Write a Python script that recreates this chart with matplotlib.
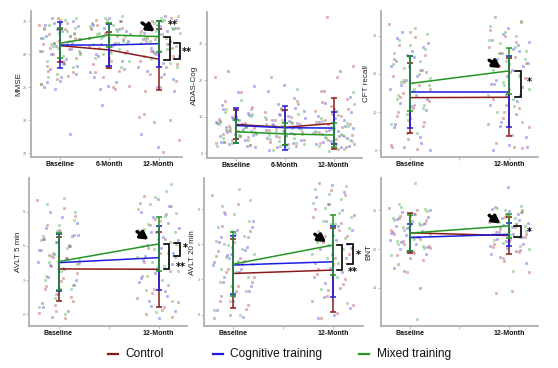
import numpy as np
import matplotlib
matplotlib.use("Agg")
import matplotlib.pyplot as plt
import matplotlib.font_manager as fm

_names = {f.name for f in fm.fontManager.ttflist}
NARROW = 'Liberation Sans Narrow' if 'Liberation Sans Narrow' in _names else 'Liberation Sans'
plt.rcParams['font.family'] = [NARROW, 'DejaVu Sans']

# ---------------- data ----------------
GROUPS = ["Control", "Cognitive training", "Mixed training"]
TIME3 = ["Baseline", "6-Month", "12-Month"]
TIME2 = ["Baseline", "", "12-Month"]

# MMSE
mmse_mean_ctrl = [28.52, 28.26, 27.70]; mmse_sd_ctrl = [1.0, 1.1, 1.85]
mmse_mean_cog = [28.56, 28.56, 28.64];  mmse_sd_cog = [1.4, 1.25, 1.4]
mmse_mean_mix = [28.67, 29.17, 29.07];  mmse_sd_mix = [0.9, 0.75, 0.95]
mmse_pts_ctrl = [[29.8, 29.5, 29.2, 29.0, 28.8, 28.6, 28.3, 28.0, 28.9, 27.6, 27.3, 26.9, 26.5, 26.2, 29.9, 28.4, 27.8, 30.1,
                  29.6, 29.1, 28.7, 28.1, 27.5, 27.0, 29.3, 30.2, 28.2, 26.7],
                 [30.1, 29.6, 29.3, 29.0, 28.7, 28.4, 28.1, 27.8, 27.4, 27.0, 26.6, 26.1, 26.0, 29.8, 28.9, 27.2,
                  29.5, 29.1, 28.6, 28.2, 27.6, 26.9, 30.0, 29.3, 28.5, 25.9],
                 [30.0, 29.6, 29.2, 28.8, 28.4, 28.0, 27.6, 27.2, 26.8, 26.4, 26.0, 24.4, 24.0, 23.9, 22.8, 22.1, 29.0, 27.9,
                  29.8, 29.4, 28.6, 28.2, 27.4, 26.6, 25.8, 30.2, 28.9, 24.2]]
mmse_pts_cog = [[30.2, 29.7, 29.4, 29.1, 28.7, 28.5, 28.2, 27.7, 27.1, 26.8, 26.4, 26.0, 23.2, 29.9, 28.9, 27.5, 26.3,
                 30.0, 29.5, 29.0, 28.6, 28.0, 27.3, 26.6, 29.8, 28.3, 25.9],
                [30.2, 29.8, 29.5, 29.1, 28.8, 28.5, 28.0, 27.6, 27.3, 26.9, 26.3, 25.9, 29.4, 28.2, 26.6,
                 30.0, 29.6, 29.2, 28.6, 27.9, 27.1, 26.1, 29.9, 28.7, 24.9],
                [30.3, 29.9, 29.6, 29.2, 28.9, 28.6, 28.2, 27.9, 27.5, 27.0, 26.5, 26.0, 23.2, 29.4, 28.4,
                 30.1, 29.7, 29.3, 28.8, 28.1, 27.2, 26.8, 29.5, 25.8, 22.4]]
mmse_pts_mix = [[30.1, 29.8, 29.6, 29.3, 29.0, 28.8, 28.5, 28.2, 27.9, 27.6, 27.2, 26.8, 26.2, 29.4, 28.6,
                 30.2, 29.9, 29.5, 29.1, 28.7, 28.0, 27.4, 26.6, 29.2, 28.4],
                [30.3, 29.9, 29.7, 29.5, 29.3, 29.1, 28.9, 28.6, 28.3, 28.0, 27.6, 29.8, 29.2, 28.8,
                 30.1, 29.6, 29.4, 29.0, 28.7, 28.1, 27.8, 27.2, 30.2, 29.0],
                [30.3, 30.0, 29.8, 29.6, 29.4, 29.2, 29.0, 28.8, 28.5, 28.2, 27.9, 27.5, 29.9, 29.3,
                 30.1, 29.7, 29.5, 29.1, 28.7, 28.3, 27.7, 27.2, 30.2, 29.0]]

# ADAS-Cog
adas_mean_ctrl = [7.9, 7.1, 8.2]; adas_sd_ctrl = [4.0, 4.8, 6.9]
adas_mean_cog = [7.6, 7.0, 6.9];  adas_sd_cog = [4.8, 6.0, 4.3]
adas_mean_mix = [5.9, 5.3, 5.0];  adas_sd_mix = [3.2, 3.0, 3.3]
adas_pts_ctrl = [[21.0, 16.9, 14.2, 12.0, 10.5, 9.3, 8.4, 7.6, 6.8, 6.0, 5.2, 4.4, 3.6, 2.8, 8.0, 6.4,
                  12.8, 10.0, 8.8, 7.2, 6.2, 5.5, 4.8, 3.2, 2.2, 9.6],
                 [20.9, 14.4, 12.5, 11.2, 10.0, 9.0, 8.0, 7.2, 6.3, 5.4, 4.5, 3.6, 2.6, 7.7,
                  13.5, 11.8, 9.5, 8.4, 6.8, 5.9, 4.9, 3.1, 2.0, 10.5],
                 [37.4, 23.9, 21.0, 17.0, 15.0, 13.0, 11.5, 10.2, 9.0, 7.9, 6.8, 5.7, 4.6, 3.5, 2.4, 1.3,
                  14.0, 12.2, 10.8, 8.5, 7.3, 6.2, 5.1, 4.0, 2.9, 1.8]]
adas_pts_cog = [[22.4, 18.3, 16.9, 13.1, 11.0, 9.8, 8.7, 7.9, 7.1, 6.2, 5.4, 4.6, 3.7, 2.5, 1.6, 9.2,
                 12.0, 10.4, 9.5, 8.3, 6.6, 5.8, 5.0, 4.1, 3.0, 2.0],
                [18.7, 17.0, 15.2, 13.5, 11.6, 10.2, 9.2, 8.3, 7.4, 6.5, 5.6, 4.6, 3.5, 2.3, 1.0,
                 12.5, 10.8, 9.7, 8.8, 7.9, 6.9, 6.0, 4.1, 2.8, 1.6],
                [22.4, 17.0, 15.3, 12.0, 10.3, 9.0, 8.0, 7.0, 6.1, 5.2, 4.3, 3.4, 2.5, 1.6,
                 13.8, 11.2, 9.6, 8.5, 7.5, 6.5, 5.6, 4.7, 3.0, 2.0]]
adas_pts_mix = [[14.5, 11.4, 10.3, 9.0, 8.1, 7.2, 6.5, 5.8, 5.0, 4.3, 3.5, 2.7, 1.9, 6.0,
                 12.0, 10.8, 9.6, 8.5, 7.6, 6.8, 5.4, 4.6, 3.1, 2.2],
                [17.5, 12.0, 10.0, 8.6, 7.5, 6.6, 5.8, 5.0, 4.2, 3.4, 2.5, 1.5, 0.8,
                 10.8, 9.2, 8.0, 7.0, 6.2, 5.4, 4.6, 3.8, 2.9, 1.9],
                [16.9, 11.5, 9.6, 8.2, 7.1, 6.2, 5.4, 4.5, 3.7, 2.9, 2.0, 1.1, 0.5,
                 13.5, 10.5, 8.8, 7.6, 6.6, 5.8, 4.9, 4.1, 3.3, 2.4]]

# CFT recall
cft_mean_ctrl = [13.8, 13.9]; cft_sd_ctrl = [9.2, 10.2]
cft_mean_cog = [15.3, 15.3];  cft_sd_cog = [9.5, 9.3]
cft_mean_mix = [17.5, 20.8];  cft_sd_mix = [7.2, 6.1]
cft_pts_ctrl = [[33.0, 29.6, 27.5, 25.0, 22.0, 19.5, 17.0, 15.0, 13.0, 11.0, 9.0, 6.5, 4.5, 1.5, 0.3, 14.0, 20.5,
                 31.0, 24.0, 21.0, 18.0, 16.0, 12.0, 10.0, 7.5, 3.0, 0.8],
                [35.0, 33.5, 30.0, 27.0, 24.5, 22.0, 19.0, 16.0, 13.5, 11.0, 8.5, 6.0, 4.0, 2.0, 0.5, 12.0,
                 31.5, 28.5, 25.5, 23.0, 20.5, 17.5, 14.5, 10.0, 7.0, 1.0]]
cft_pts_cog = [[31.0, 28.0, 26.0, 23.5, 21.0, 18.5, 16.0, 14.5, 12.5, 10.5, 8.5, 6.0, 3.5, 1.0, 0.0, 24.5,
                29.5, 27.0, 25.0, 22.0, 19.5, 17.0, 13.5, 11.5, 7.0, 2.0],
               [32.0, 29.0, 27.5, 25.5, 23.0, 21.0, 18.5, 16.5, 14.5, 12.0, 9.5, 6.5, 3.5, 1.5, 0.0, 26.0,
                30.5, 28.5, 26.5, 24.0, 22.0, 19.5, 17.5, 13.0, 7.5, 0.8]]
cft_pts_mix = [[32.0, 29.0, 26.5, 24.5, 22.5, 20.0, 18.5, 17.0, 15.5, 13.5, 11.0, 9.5, 7.0, 4.5, 18.0,
                30.5, 27.5, 25.5, 23.5, 21.5, 19.0, 16.0, 14.5, 12.0, 8.0],
               [34.0, 31.0, 29.0, 27.0, 25.5, 24.0, 22.5, 21.0, 19.5, 18.0, 16.0, 13.5, 10.0, 7.5, 23.5,
                32.5, 30.0, 28.0, 26.0, 24.5, 22.0, 20.0, 17.0, 14.5, 11.5]]

# AVLT 5 min
avlt5_mean_ctrl = [3.98, 3.95]; avlt5_sd_ctrl = [2.8, 3.3]
avlt5_mean_cog = [4.53, 4.97];  avlt5_sd_cog = [2.5, 2.8]
avlt5_mean_mix = [4.62, 6.17];  avlt5_sd_mix = [2.5, 2.4]
avlt5_pts_ctrl = [[10.0, 9.3, 7.8, 7.0, 6.3, 5.6, 4.9, 4.2, 3.6, 2.9, 2.2, 1.5, 0.8, 0.1, -0.3, 5.2,
                   8.6, 7.4, 6.6, 6.0, 5.0, 4.5, 3.2, 2.5, 1.2, 0.3],
                  [10.4, 9.5, 8.4, 7.4, 6.6, 5.8, 5.0, 4.2, 3.4, 2.6, 1.9, 1.1, 0.4, 0.0, -0.2, 7.2,
                   9.8, 8.8, 7.8, 6.2, 5.4, 4.6, 3.8, 2.2, 1.4, 0.6]]
avlt5_pts_cog = [[9.0, 8.0, 7.2, 6.6, 6.0, 5.3, 4.6, 4.0, 3.3, 2.6, 1.8, 1.0, 0.3, -0.2, 7.0,
                  8.5, 7.6, 6.9, 6.3, 5.6, 4.9, 4.3, 3.0, 2.2, 0.6],
                 [10.1, 9.0, 8.0, 7.2, 6.5, 5.8, 5.1, 4.4, 3.6, 2.8, 2.0, 1.2, 0.3, -0.3, 4.8,
                  9.5, 8.5, 7.6, 6.8, 6.1, 5.4, 4.0, 3.2, 1.6, 0.7]]
avlt5_pts_mix = [[10.2, 9.7, 8.3, 7.3, 6.5, 5.8, 5.1, 4.4, 3.8, 3.0, 2.2, 1.4, 0.6, 0.0, 4.6,
                  9.0, 7.8, 6.9, 6.1, 5.4, 4.8, 4.1, 3.4, 2.6, 1.8],
                 [11.4, 10.3, 9.2, 8.6, 7.9, 7.2, 6.6, 6.0, 5.4, 4.6, 3.8, 3.0, 2.1, 1.2, 0.2, 6.9,
                  10.8, 9.7, 8.9, 8.2, 7.5, 6.3, 5.7, 5.0, 4.2, 3.4]]

# AVLT 20 min
avlt20_mean_ctrl = [3.51, 3.80]; avlt20_sd_ctrl = [2.95, 3.6]
avlt20_mean_cog = [4.23, 4.51];  avlt20_sd_cog = [2.45, 3.05]
avlt20_mean_mix = [4.31, 5.94];  avlt20_sd_mix = [2.7, 2.6]
avlt20_pts_ctrl = [[10.2, 9.4, 7.6, 6.6, 5.8, 5.0, 4.3, 3.6, 2.8, 2.0, 1.2, 0.5, 0.0, -0.3, 4.8,
                    8.8, 7.1, 6.2, 5.4, 4.6, 3.9, 3.2, 2.4, 1.6, 0.8],
                   [11.2, 10.2, 9.4, 8.3, 7.2, 6.2, 5.2, 4.3, 3.5, 2.6, 1.6, 0.8, 0.1, -0.3, 6.7,
                    10.6, 9.0, 7.8, 6.7, 5.7, 4.8, 3.9, 3.0, 2.1, 1.2]]
avlt20_pts_cog = [[8.6, 7.5, 6.9, 6.2, 5.5, 4.8, 4.2, 3.6, 2.8, 2.0, 1.2, 0.4, -0.2, 5.1,
                   8.0, 7.2, 6.6, 5.8, 5.2, 4.5, 3.9, 3.2, 2.4, 1.6],
                  [11.1, 10.0, 8.9, 8.0, 7.2, 6.4, 5.6, 4.8, 4.0, 3.2, 2.3, 1.5, 0.6, 0.0, -0.3,
                   10.5, 9.4, 8.5, 7.6, 6.8, 6.0, 5.2, 4.4, 3.6, 2.7]]
avlt20_pts_mix = [[10.7, 9.3, 8.0, 7.1, 6.3, 5.6, 4.9, 4.3, 3.6, 2.8, 2.0, 1.2, 0.4, 0.0, 6.0,
                   9.8, 8.6, 7.5, 6.7, 5.9, 5.2, 4.6, 3.9, 3.2, 2.4],
                  [11.0, 10.3, 9.5, 8.7, 8.0, 7.4, 6.8, 6.2, 5.6, 4.8, 4.0, 3.2, 2.2, 1.0, 7.7,
                   10.7, 9.9, 9.1, 8.3, 7.7, 7.1, 6.5, 5.9, 5.2, 4.4]]

# BNT
bnt_mean_ctrl = [22.1, 21.75]; bnt_sd_ctrl = [2.6, 2.4]
bnt_mean_cog = [21.5, 21.9];   bnt_sd_cog = [1.7, 1.5]
bnt_mean_mix = [22.06, 23.0];  bnt_sd_mix = [2.3, 1.6]
bnt_pts_ctrl = [[25.3, 24.6, 24.0, 23.4, 22.8, 22.2, 21.6, 21.0, 20.4, 19.8, 19.2, 18.6, 17.0, 22.5,
                 25.0, 24.3, 23.7, 23.1, 22.0, 21.3, 20.7, 20.1, 19.5, 18.0],
                [25.4, 24.8, 24.1, 23.5, 22.9, 22.2, 21.6, 21.0, 20.3, 19.6, 18.9, 17.0, 14.5, 14.3,
                 25.1, 24.5, 23.8, 23.2, 22.6, 21.9, 21.3, 20.7, 19.9, 18.5]]
bnt_pts_cog = [[24.8, 24.2, 23.6, 23.0, 22.4, 21.8, 21.2, 20.6, 20.0, 19.4, 18.8, 17.5, 14.9, 17.2,
                25.1, 24.5, 23.9, 23.3, 22.7, 22.1, 21.5, 20.9, 20.3, 19.7],
               [28.0, 25.2, 24.6, 24.0, 23.4, 22.8, 22.2, 21.6, 21.0, 20.4, 19.8, 19.0, 18.2,
                24.9, 24.3, 23.7, 23.1, 22.5, 21.9, 21.3, 20.7, 20.1, 19.4]]
bnt_pts_mix = [[28.5, 25.8, 25.2, 24.6, 24.0, 23.4, 22.8, 22.2, 21.6, 21.0, 20.4, 19.8, 19.2, 10.9,
                25.5, 24.9, 24.3, 23.7, 23.1, 22.5, 21.9, 21.3, 20.7, 20.1],
               [25.6, 25.0, 24.5, 24.0, 23.5, 23.0, 22.5, 22.0, 21.5, 20.8, 20.0, 17.1,
                25.3, 24.8, 24.3, 23.8, 23.3, 22.8, 22.3, 21.8, 21.2, 20.4]]

# ---------------- styling ----------------
LINE_COL = ["#8B1A1A", "#1C1CE0", "#249624"]
PT_COL = ["#B85050", "#5050DC", "#50AC50"]
AX_COL = "#AFAFAF"
W, H = 558, 368

fig = plt.figure(figsize=(W / 100, H / 100), dpi=100)


def add_axes(px):
    l, t, r, b = px
    return fig.add_axes([l / W, 1 - b / H, (r - l) / W, (b - t) / H])


def panel(px, xlim, ylim, yticks, ylabel, label_x, xpos, xlabels, means, sds, pts):
    ax = add_axes(px)
    for s in ["top", "right"]:
        ax.spines[s].set_visible(False)
    for s in ["left", "bottom"]:
        ax.spines[s].set_color(AX_COL)
        ax.spines[s].set_linewidth(1.3)
    # jittered raw points
    for g in range(3):
        for ti, vals in enumerate(pts[g]):
            n = len(vals)
            off = ((np.arange(n) * 0.618034 + g * 0.31 + ti * 0.17) % 1 - 0.5) * 0.85
            ax.scatter(xpos[ti] + off, vals, s=3, marker='s',
                       facecolor=PT_COL[g], edgecolor=PT_COL[g], alpha=0.45,
                       linewidths=0.4, zorder=2, clip_on=False)
    # means and SD error bars
    for g in range(3):
        ax.plot(xpos, means[g], color=LINE_COL[g], lw=1.1, zorder=4)
        ax.errorbar(xpos, means[g], yerr=sds[g], fmt='none', ecolor=LINE_COL[g],
                    elinewidth=1.1, capsize=2.5, capthick=1.1, zorder=4)
    ax.set_xlim(*xlim)
    ax.set_ylim(*ylim)
    ax.set_xticks([1, 2, 3])
    ax.set_xticklabels(xlabels, fontsize=5, fontweight='bold', color='#111111')
    ax.set_yticks(yticks)
    ax.set_yticklabels([str(v) for v in yticks], fontsize=2.8, color='#777777')
    ax.tick_params(axis='both', length=2, width=0.6, color=AX_COL, pad=1.0)
    ax.set_ylabel(ylabel, fontsize=5.8, color='#222222', va='center')
    ax.yaxis.set_label_coords(label_x, 0.5)
    return ax


def bracket(ax, x_in, x_out, y1, y2):
    ax.plot([x_in, x_out, x_out, x_in], [y1, y1, y2, y2], color='black', lw=1.2,
            clip_on=False, zorder=6, solid_joinstyle='miter')


def star(ax, x, y, s):
    ax.text(x, y, s, fontsize=7, fontweight='bold', ha='center', va='center',
            clip_on=False, zorder=6, family='DejaVu Sans')


def arrow(ax, x0, y0, x1, y1):
    ax.annotate("", xy=(x1, y1), xytext=(x0, y0),
                arrowprops=dict(arrowstyle='-|>,head_length=0.45,head_width=0.25',
                                color='black', lw=2.4, shrinkA=0, shrinkB=0),
                annotation_clip=False, zorder=7)


# MMSE
ax = panel([31, 11, 182, 157], (0.41, 3.47), (21.78, 30.62), [22, 24, 26, 28, 30], "MMSE", -0.082,
           [1, 2, 3], TIME3,
           [mmse_mean_ctrl, mmse_mean_cog, mmse_mean_mix],
           [mmse_sd_ctrl, mmse_sd_cog, mmse_sd_mix],
           [mmse_pts_ctrl, mmse_pts_cog, mmse_pts_mix])
bracket(ax, 3.11, 3.23, 29.07, 27.68)
bracket(ax, 3.31, 3.43, 28.67, 27.70)
star(ax, 3.28, 29.78, "**")
star(ax, 3.57, 28.15, "**")
arrow(ax, 2.66, 29.9, 2.92, 29.38)

# ADAS-Cog
ax = panel([207, 12, 362, 158], (0.41, 3.58), (-1.3, 38.7), [0, 10, 20, 30], "ADAS-Cog", -0.08,
           [1, 2, 3], TIME3,
           [adas_mean_ctrl, adas_mean_cog, adas_mean_mix],
           [adas_sd_ctrl, adas_sd_cog, adas_sd_mix],
           [adas_pts_ctrl, adas_pts_cog, adas_pts_mix])

# CFT recall
ax = panel([381, 11, 538, 157], (0.41, 3.59), (-1.75, 36.5), [0, 10, 20, 30], "CFT recall", -0.09,
           [1, 3], TIME2,
           [cft_mean_ctrl, cft_mean_cog, cft_mean_mix],
           [cft_sd_ctrl, cft_sd_cog, cft_sd_mix],
           [cft_pts_ctrl, cft_pts_cog, cft_pts_mix])
bracket(ax, 3.12, 3.24, 20.75, 14.0)
star(ax, 3.42, 18.0, "*")
arrow(ax, 2.60, 23.6, 2.84, 21.6)

# AVLT 5 min
ax = panel([29, 178, 187, 326], (0.41, 3.57), (-1.03, 11.96), [0, 3, 6, 9], "AVLT 5 min", -0.066,
           [1, 3], TIME2,
           [avlt5_mean_ctrl, avlt5_mean_cog, avlt5_mean_mix],
           [avlt5_sd_ctrl, avlt5_sd_cog, avlt5_sd_mix],
           [avlt5_pts_ctrl, avlt5_pts_cog, avlt5_pts_mix])
bracket(ax, 3.10, 3.20, 6.17, 3.95)
bracket(ax, 3.31, 3.42, 6.23, 5.15)
star(ax, 3.44, 4.15, "**")
star(ax, 3.53, 5.85, "*")
arrow(ax, 2.57, 7.25, 2.80, 6.55)

# AVLT 20 min
ax = panel([204, 178, 362.7, 326.3], (0.41, 3.59), (-1.0, 11.66), [0, 3, 6, 9], "AVLT 20 min", -0.07,
           [1, 3], TIME2,
           [avlt20_mean_ctrl, avlt20_mean_cog, avlt20_mean_mix],
           [avlt20_sd_ctrl, avlt20_sd_cog, avlt20_sd_mix],
           [avlt20_pts_ctrl, avlt20_pts_cog, avlt20_pts_mix])
bracket(ax, 3.08, 3.18, 5.94, 3.80)
bracket(ax, 3.28, 3.40, 6.06, 4.29)
star(ax, 3.40, 3.62, "**")
star(ax, 3.51, 5.05, "*")
arrow(ax, 2.63, 6.86, 2.86, 6.18)

# BNT
ax = panel([381, 178, 538, 325.7], (0.41, 3.59), (10.07, 29.2), [15, 20, 25], "BNT", -0.075,
           [1, 3], TIME2,
           [bnt_mean_ctrl, bnt_mean_cog, bnt_mean_mix],
           [bnt_sd_ctrl, bnt_sd_cog, bnt_sd_mix],
           [bnt_pts_ctrl, bnt_pts_cog, bnt_pts_mix])
bracket(ax, 3.10, 3.24, 23.0, 21.6)
star(ax, 3.42, 22.2, "*")
arrow(ax, 2.60, 24.35, 2.83, 23.3)

# Legend
leg_line_x = [113, 217.7, 364]
leg_text_x = [125.7, 230, 376.7]
leg_y = 354
for g in range(3):
    x0 = leg_line_x[g]
    fig.add_artist(plt.Line2D([(x0 - 5) / W, (x0 + 5) / W], [1 - leg_y / H] * 2,
                              color=LINE_COL[g], lw=1.6))
    fig.text(leg_text_x[g] / W, 1 - leg_y / H, GROUPS[g], fontsize=8.6, va='center',
             ha='left', color='#111111')

fig.savefig("out.png", dpi=100)
